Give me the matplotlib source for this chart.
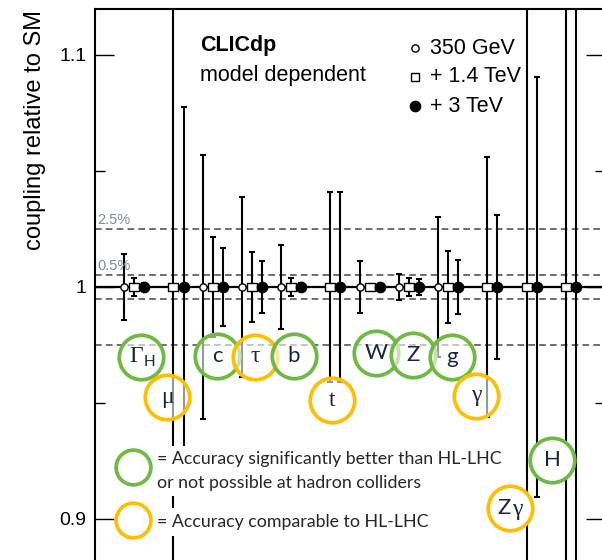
import numpy as np
import matplotlib

matplotlib.use('Agg')
import matplotlib.pyplot as plt
from matplotlib.lines import Line2D
from matplotlib.path import Path

plt.rcParams['font.family'] = ['Liberation Sans', 'DejaVu Sans']

W, H = 602, 560

# one entry per coupling group, left to right
couplings = ['Gamma_H', 'mu', 'c', 'tau', 'b', 't', 'W', 'Z', 'g', 'gamma', 'Zgamma', 'H']
# symmetric relative uncertainties, nan = not measured at that stage
err_350 = [0.0142, np.nan, 0.057, 0.039, 0.018, np.nan, 0.0113, 0.0058, 0.030, np.nan, np.nan, np.nan]
err_1400 = [0.0039, 0.5, 0.0216, 0.0151, 0.0037, 0.041, 0.0012, 0.0037, 0.0155, 0.056, 0.5, 0.5]
err_3000 = [0.0018, 0.0776, 0.0166, 0.0112, 0.0018, 0.041, 0.001, 0.0036, 0.0115, 0.031, 0.0905, 0.5]

stage_labels = ['350 GeV', '+ 1.4 TeV', '+ 3 TeV']
band_levels = [0.005, 0.025]
band_labels = ['0.5%', '2.5%']

green = '#6fb944'
orange = '#ffbf00'
navy = '#1b2541'
sans = ['Lato', 'DejaVu Sans']
serif = ['Liberation Serif', 'DejaVu Serif']

# circled annotations: colour, centre in pixels, then text pieces (text, dx, dy, size, family)
annotations = [
    (green, 141, 357, [('Γ', -5, -1, 17, serif), ('H', 8, 5, 11, sans)]),
    (orange, 167, 397, [('μ', 0, 0, 17, serif)]),
    (green, 217, 356, [('c', 0, 0, 16, sans)]),
    (orange, 255, 357, [('τ', 0, 0, 17, serif)]),
    (green, 294, 356, [('b', 0, 0, 16, sans)]),
    (orange, 332, 400, [('t', 0, 0, 17, serif)]),
    (green, 376, 353, [('W', 0, 0, 16, sans)]),
    (green, 413, 355, [('Z', 0, 0, 16, sans)]),
    (green, 452, 357, [('g', 0, 0, 16, sans)]),
    (orange, 476, 396, [('γ', 0, 0, 17, serif)]),
    (orange, 510, 508, [('Z', -6, 0, 16, sans), ('γ', 7, 1, 17, serif)]),
    (green, 552, 460, [('H', 0, 0, 16, sans)]),
]
solid_fill = [(510, 508), (552, 460)]


def px(x, y):
    return x / W, 1 - y / H


rect = Path([(-1.25, -1), (1.25, -1), (1.25, 1), (-1.25, 1), (-1.25, -1)],
            [Path.MOVETO, Path.LINETO, Path.LINETO, Path.LINETO, Path.CLOSEPOLY])

fig = plt.figure(figsize=(W / 100, H / 100), dpi=100)
ylo, yhi = 0.88, 1.12
y_top = 287 - (yhi - 1) * 2320
y_bot = 287 + (1 - ylo) * 2320
ax = fig.add_axes([95 / W, 1 - y_bot / H, 510 / W, (y_bot - y_top) / H])

x = np.arange(1, len(couplings) + 1)
off = 0.256
styles = [
    dict(marker='o', ms=5.2, mfc='white', mec='black', mew=1.0),
    dict(marker=rect, ms=7.4, mfc='white', mec='black', mew=1.0),
    dict(marker='o', ms=7.4, mfc='black', mec='black', mew=1.0),
]

for k, errs in enumerate([err_350, err_1400, err_3000]):
    errs = np.array(errs)
    ok = ~np.isnan(errs)
    ax.errorbar(x[ok] + (k - 1) * off, np.ones(ok.sum()), yerr=errs[ok],
                fmt='none', ecolor='black', elinewidth=1.5, capsize=2.2,
                capthick=1.5, zorder=3)
    ax.plot(x[ok] + (k - 1) * off, np.ones(ok.sum()), ls='none', zorder=4,
            **styles[k])

ax.axhline(1.0, color='black', lw=1.6, zorder=2)
for lev, lab in zip(band_levels, band_labels):
    for sgn in (1, -1):
        ax.axhline(1 + sgn * lev, color='#555555', lw=1.2, dashes=(4, 2.5), zorder=1)
    ax.text(0.004, 1 + lev + 0.001, lab, transform=ax.get_yaxis_transform(),
            fontsize=10.5, color='#7d88a3', va='bottom', ha='left')

ax.set_xlim(0, 13)
ax.set_ylim(ylo, yhi)
ax.set_xticks([])
ax.set_yticks([0.9, 1.0, 1.1])
ax.set_yticklabels(['0.9', '1', '1.1'])
ax.set_yticks([0.95, 1.05], minor=True)
ax.tick_params(axis='y', which='both', direction='in', right=True, labelsize=14,
               width=1.0, pad=6)
ax.tick_params(axis='y', which='major', length=13.5)
ax.tick_params(axis='y', which='minor', length=7)
for s in ax.spines.values():
    s.set_linewidth(1.5)

fig.text(*px(35, 10), 'coupling relative to SM', rotation=90, ha='center',
         va='top', fontsize=17)

fig.text(*px(200, 45), 'CLICdp', fontsize=15.5, fontweight='bold', va='center')
fig.text(*px(200, 75), 'model dependent', fontsize=15.5, va='center')

for k, (lab, yy) in enumerate(zip(stage_labels, [48, 77, 106])):
    st = dict(styles[k])
    if k == 1:
        st['marker'] = 's'
        st['ms'] = 6
    fig.add_artist(Line2D([px(415, yy)[0]], [px(415, yy)[1]], transform=fig.transFigure,
                          ls='none', **st))
    fig.text(*px(430, yy), lab, fontsize=15.5, va='center')

# white-backed key text first, circles on top of it
fig.text(*px(157, 471), '= Accuracy significantly better than HL-LHC\nor not possible at hadron colliders',
         fontsize=12.8, color='#262626', va='center', ha='left', linespacing=1.6,
         family=sans, zorder=6, bbox=dict(facecolor='white', edgecolor='none', pad=4))
fig.text(*px(157, 522), '= Accuracy comparable to HL-LHC',
         fontsize=12.8, color='#262626', va='center', ha='left',
         family=sans, zorder=6, bbox=dict(facecolor='white', edgecolor='none', pad=4))
for col, cy in [(green, 467), (orange, 520)]:
    fig.add_artist(Line2D([px(133, cy)[0]], [px(133, cy)[1]], transform=fig.transFigure,
                          ls='none', marker='o', ms=25, mfc='white', mec=col, mew=2.7,
                          zorder=7))

for col, cx, cy, pieces in annotations:
    face = 'white' if (cx, cy) in solid_fill else (1, 1, 1, 0.6)
    fig.add_artist(Line2D([px(cx, cy)[0]], [px(cx, cy)[1]], transform=fig.transFigure,
                          ls='none', marker='o', ms=32, mfc=face, mec=col, mew=2.7,
                          zorder=7))
    for txt, dx, dy, size, fam in pieces:
        fig.text(*px(cx + dx, cy + dy), txt, ha='center', va='center', fontsize=size,
                 color=navy, family=fam, zorder=8)

fig.savefig('out.png', dpi=100)
